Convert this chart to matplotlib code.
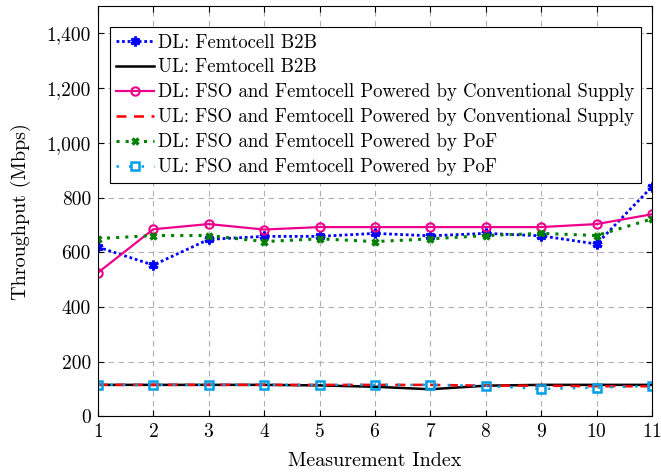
import matplotlib
matplotlib.use('Agg')
import matplotlib.pyplot as plt

plt.rcParams['font.family'] = ['cmr10', 'DejaVu Serif']
plt.rcParams['mathtext.fontset'] = 'cm'
plt.rcParams['axes.formatter.use_mathtext'] = True

idx = list(range(1, 12))

dl_b2b = [619, 553, 647, 658, 658, 669, 660, 669, 660, 630, 840]
ul_b2b = [115, 115, 115, 115, 113, 108, 99, 112, 115, 115, 115]
dl_conv = [525, 684, 703, 683, 692, 692, 692, 692, 692, 703, 739]
ul_conv = [115, 115, 115, 115, 115, 115, 115, 112, 112, 110, 110]
dl_pof = [650, 661, 661, 639, 649, 639, 649, 661, 669, 661, 722]
ul_pof = [115, 115, 115, 115, 115, 115, 115, 111, 100, 105, 111]

labels = ['DL: Femtocell B2B',
          'UL: Femtocell B2B',
          'DL: FSO and Femtocell Powered by Conventional Supply',
          'UL: FSO and Femtocell Powered by Conventional Supply',
          'DL: FSO and Femtocell Powered by PoF',
          'UL: FSO and Femtocell Powered by PoF']

fig = plt.figure(figsize=(6.61, 4.72), dpi=100)
ax = fig.add_axes([0.148, 0.118, 0.8385, 0.869])

ax.plot(idx, dl_b2b, color='#0000ff', linestyle=(0, (1, 1)), linewidth=2,
        marker=(6, 2, 0), markersize=7, markeredgewidth=2.2, label=labels[0])
ax.plot(idx, ul_b2b, color='black', linewidth=1.8, label=labels[1])
ax.plot(idx, dl_conv, color='#ec008c', linewidth=1.6, marker='o', markersize=6,
        markerfacecolor='none', markeredgewidth=1.5, label=labels[2])
ax.plot(idx, ul_conv, color='#ff0000', linestyle=(0, (4, 3)), linewidth=1.8, label=labels[3])
ax.plot(idx, dl_pof, color='#008000', linestyle=(0, (1, 2)), linewidth=2.2,
        marker='x', markersize=5, markeredgewidth=2.5, label=labels[4])
ax.plot(idx, ul_pof, color='#00a0e6', linestyle=(0, (1, 4)), linewidth=1.8,
        marker='s', markersize=6, markerfacecolor='none', markeredgewidth=1.8, label=labels[5])

ax.set_xlim(1, 11)
ax.set_ylim(0, 1500)
ax.set_xticks(idx)
ax.set_yticks(range(0, 1401, 200))
ax.set_yticklabels(['0', '200', '400', '600', '800', '1,000', '1,200', '1,400'])
ax.grid(True, color='#b0b0b0', linestyle=(0, (5, 4)), linewidth=0.8)
ax.tick_params(labelsize=14, direction='in', length=4, top=True, right=True, pad=5)
ax.set_xlabel('Measurement Index', fontsize=14.5, labelpad=8)
ax.set_ylabel('Throughput (Mbps)', fontsize=14.5, labelpad=11)

leg = ax.legend(loc='upper left', bbox_to_anchor=(0.0215, 0.949), fontsize=13.5,
                frameon=True, fancybox=False, edgecolor='black', framealpha=1,
                handlelength=2.0, handletextpad=0.25, labelspacing=0.37,
                borderpad=0.35, borderaxespad=0)
leg.get_frame().set_linewidth(0.8)

fig.savefig('out.png', dpi=100)
